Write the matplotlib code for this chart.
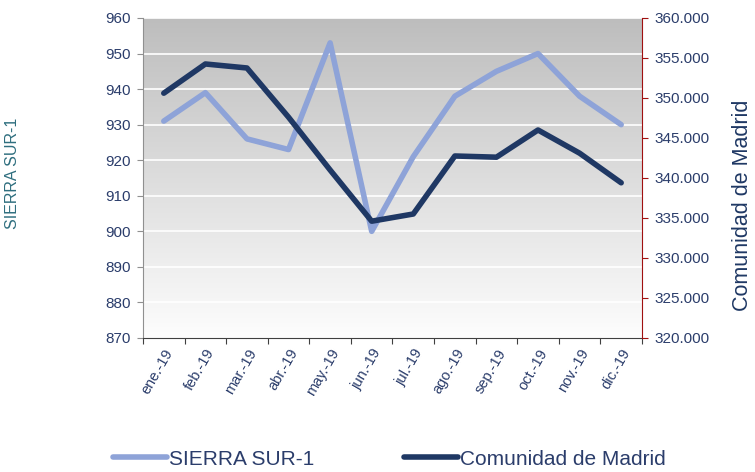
import numpy as np
import matplotlib.pyplot as plt
from matplotlib.colors import LinearSegmentedColormap

plt.rcParams['font.family'] = ['Liberation Sans', 'DejaVu Sans']

meses = ['ene.-19', 'feb.-19', 'mar.-19', 'abr.-19', 'may.-19', 'jun.-19',
         'jul.-19', 'ago.-19', 'sep.-19', 'oct.-19', 'nov.-19', 'dic.-19']
sierra_sur = [931, 939, 926, 923, 953, 900, 921, 938, 945, 950, 938, 930]
madrid = [350600, 354250, 353750, 347600, 341000, 334600,
          335500, 342750, 342600, 346000, 343100, 339400]

navy = '#1f3864'
light = '#8ea3d8'
label_col = '#2b3d6b'

W, H = 755, 472
fig = plt.figure(figsize=(W / 100, H / 100), dpi=100)
ax = fig.add_axes([0.1894, 0.2839, 0.6609, 0.678])
x = np.arange(len(meses))

# fondo degradado gris -> blanco
cmap = LinearSegmentedColormap.from_list('bg', ['#fdfdfd', '#bdbdbd'])
grad = np.linspace(0, 1, 256).reshape(-1, 1)
ax.imshow(grad, cmap=cmap, aspect='auto', origin='lower',
          extent=[0, 1, 0, 1], transform=ax.transAxes, zorder=0)

ax.set_xlim(-0.5, 11.5)
ax.set_ylim(870, 960)
ax.set_yticks(range(870, 961, 10))
ax.grid(True, axis='y', color='white', linewidth=1.2, zorder=1)
ax.set_axisbelow(True)
ax.plot(x, sierra_sur, color=light, linewidth=4, solid_capstyle='round',
        zorder=3, label='SIERRA SUR-1')

ax.set_xticks(np.arange(-0.5, 12, 1))
ax.set_xticklabels([])
ax.set_xticks(x, minor=True)
ax.set_xticklabels(meses, minor=True, rotation=60, ha='right',
                   rotation_mode='anchor', fontsize=10.5, color=label_col)
ax.tick_params(axis='x', which='minor', length=0, pad=6)
ax.tick_params(axis='x', which='major', length=4, color='#404040')
ax.tick_params(axis='y', length=4, color='#909090', labelsize=11,
               labelcolor=label_col, pad=5)
for s in ['top', 'right']:
    ax.spines[s].set_visible(False)
ax.spines['left'].set_color('#909090')
ax.spines['bottom'].set_color('#404040')

ax2 = ax.twinx()
ax2.set_ylim(320000, 360000)
ax2.set_yticks(range(320000, 360001, 5000))
ax2.set_yticklabels([f'{v:,}'.replace(',', '.') for v in range(320000, 360001, 5000)])
ax2.plot(x, madrid, color=navy, linewidth=4, solid_capstyle='round',
         zorder=3, label='Comunidad de Madrid')
ax2.tick_params(axis='y', length=4, color='#a01010', labelsize=11,
                labelcolor=label_col, pad=5)
for s in ['top', 'left', 'bottom']:
    ax2.spines[s].set_visible(False)
ax2.spines['right'].set_color('#a01010')

# títulos de los ejes colocados a mano en los bordes
fig.text(13 / W, 1 - 173 / H, 'SIERRA SUR-1', rotation=90, ha='center',
         va='center', fontsize=11.5, color='#2e6e7e')
fig.text(743 / W, 1 - 205 / H, 'Comunidad de Madrid', rotation=90,
         ha='center', va='center', fontsize=15.5, color=navy)

h1, l1 = ax.get_legend_handles_labels()
h2, l2 = ax2.get_legend_handles_labels()
leg = fig.legend(h1 + h2, l1 + l2, loc='center', bbox_to_anchor=(0.516, 0.027),
                 ncol=2, frameon=False, fontsize=15, handlelength=2.6,
                 handletextpad=0.1, columnspacing=4.3)
for t in leg.get_texts():
    t.set_color(label_col)

fig.savefig('out.png', dpi=100)
